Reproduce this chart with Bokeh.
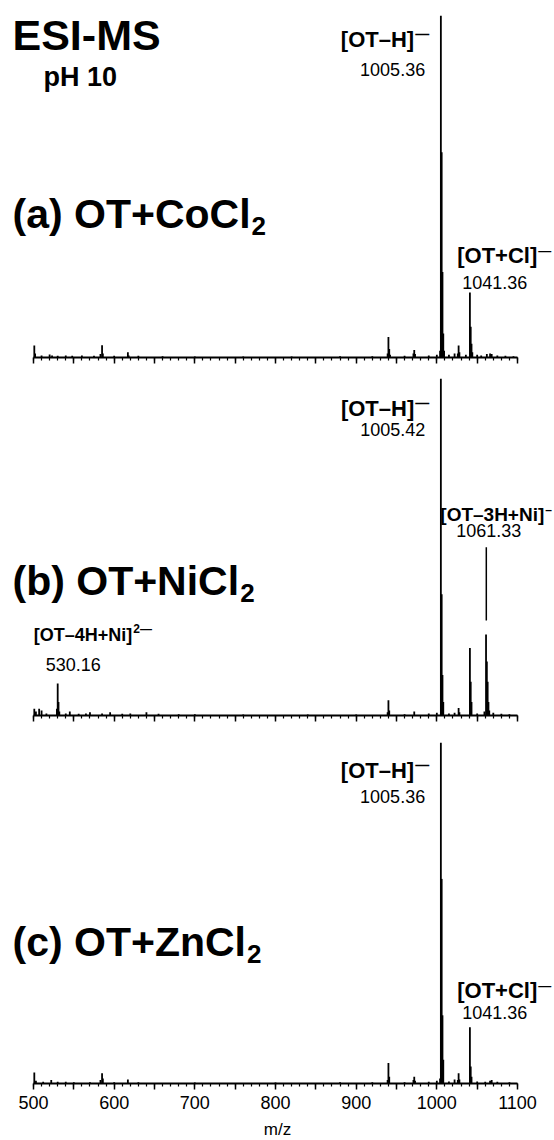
from bokeh.plotting import figure
from bokeh.models import Range1d, Label, FixedTicker
from bokeh.layouts import column
from bokeh.embed import file_html
from bokeh.resources import INLINE

FONT = "Liberation Sans"

# ---------------- data ----------------
tick_values = [500, 550, 600, 650, 700, 750, 800, 850, 900, 950, 1000, 1050, 1100]
tick_labels = ["500", "", "600", "", "700", "", "800", "", "900", "", "1000", "", "1100"]
minor_tick_values = [500, 510, 520, 530, 540, 550, 560, 570, 580, 590, 600, 610, 620, 630, 640,
                     650, 660, 670, 680, 690, 700, 710, 720, 730, 740, 750, 760, 770, 780, 790,
                     800, 810, 820, 830, 840, 850, 860, 870, 880, 890, 900, 910, 920, 930, 940,
                     950, 960, 970, 980, 990, 1000, 1010, 1020, 1030, 1040, 1050, 1060, 1070,
                     1080, 1090, 1100]
x_label = "m/z"

# (a) OT + CoCl2  -- relative intensity (1.0 = base peak)
mz_a = [501, 502, 510, 520, 523, 530, 540, 548, 560, 575, 583, 585, 586, 600, 617, 618, 630,
        660, 700, 760, 820, 880, 920, 939, 940, 941, 942, 960, 971, 972, 973, 990, 1000, 1004,
        1005, 1006, 1007, 1008, 1009, 1015, 1022, 1026, 1027, 1028, 1036, 1041, 1042, 1043,
        1044, 1050, 1055, 1062, 1066, 1068, 1075, 1085, 1095]
int_a = [0.035, 0.012, 0.006, 0.009, 0.006, 0.005, 0.006, 0.005, 0.006, 0.005, 0.010, 0.036,
         0.012, 0.005, 0.015, 0.006, 0.005, 0.004, 0.003, 0.003, 0.003, 0.004, 0.004, 0.012,
         0.060, 0.025, 0.008, 0.005, 0.012, 0.022, 0.010, 0.006, 0.008, 0.020, 1.000, 0.600,
         0.250, 0.070, 0.020, 0.008, 0.012, 0.012, 0.035, 0.015, 0.008, 0.190, 0.090, 0.040,
         0.015, 0.008, 0.006, 0.010, 0.012, 0.010, 0.006, 0.005, 0.004]

# (b) OT + NiCl2
mz_b = [501, 503, 507, 510, 516, 529, 530, 531, 532, 540, 545, 556, 565, 570, 585, 595, 610,
        620, 640, 655, 680, 700, 760, 840, 900, 939, 940, 941, 960, 972, 990, 1000, 1005, 1006,
        1007, 1008, 1015, 1022, 1027, 1028, 1041, 1042, 1043, 1050, 1059, 1061, 1062, 1063,
        1064, 1065, 1070, 1080, 1090]
int_b = [0.020, 0.012, 0.020, 0.015, 0.006, 0.020, 0.095, 0.040, 0.012, 0.006, 0.012, 0.005,
         0.006, 0.010, 0.006, 0.010, 0.005, 0.006, 0.010, 0.005, 0.004, 0.004, 0.003, 0.003,
         0.003, 0.010, 0.045, 0.015, 0.004, 0.012, 0.006, 0.008, 1.000, 0.360, 0.120, 0.040,
         0.006, 0.008, 0.022, 0.010, 0.200, 0.100, 0.040, 0.006, 0.012, 0.240, 0.160, 0.100,
         0.040, 0.015, 0.008, 0.005, 0.004]

# (c) OT + ZnCl2
mz_c = [501, 503, 512, 522, 530, 540, 550, 570, 583, 585, 586, 600, 617, 630, 700, 800, 880,
        920, 939, 940, 941, 960, 971, 972, 973, 990, 1000, 1004, 1005, 1006, 1007, 1008, 1015,
        1022, 1026, 1027, 1028, 1041, 1042, 1043, 1050, 1060, 1066, 1068, 1075, 1090]
int_c = [0.032, 0.008, 0.005, 0.010, 0.005, 0.005, 0.004, 0.004, 0.010, 0.030, 0.015, 0.004,
         0.012, 0.004, 0.003, 0.003, 0.004, 0.004, 0.010, 0.060, 0.020, 0.004, 0.010, 0.020,
         0.008, 0.005, 0.008, 0.015, 1.000, 0.600, 0.200, 0.070, 0.006, 0.012, 0.010, 0.030,
         0.012, 0.165, 0.050, 0.020, 0.006, 0.005, 0.008, 0.010, 0.005, 0.004]

# labelled peaks
oth_mz = [1005.36, 1005.42, 1005.36]
oth_txt = ["1005.36", "1005.42", "1005.36"]
otcl_mz = [1041.36, 1041.36]
otcl_txt = ["1041.36", "1041.36"]
ni1_mz, ni1_txt = 1061.33, "1061.33"
ni2_mz, ni2_txt = 530.16, "530.16"
ni1_leader = [0.282, 0.499]

# --------------- helpers ---------------
W = {' ': 278, '(': 333, ')': 333, 'a': 556, 'b': 611, 'c': 556, 'O': 778, 'T': 611, '+': 584,
     'C': 722, 'o': 611, 'l': 278, 'N': 722, 'i': 278, 'Z': 611, 'n': 611, '[': 333, ']': 333,
     'H': 722, '–': 556, '4': 556, '3': 556, '2': 556}


def tw(s, size):
    return sum(W[ch] for ch in s) * size / 1000.0


WIDTH = 554
PX0, PX1 = 33.0, 517.0          # pixel positions of m/z 500 and 1100
UPP = 600.0 / (PX1 - PX0)       # m/z units per pixel
X_START = 500 - PX0 * UPP
X_END = 1100 + (WIDTH - PX1) * UPP


def mzx(px):
    return 500 + (px - PX0) * UPP


def txt(p, x, y, s, size, bold=True, align="left", xo=0):
    p.add_layout(Label(x=x, y=y, text=s, x_offset=xo, text_font=FONT,
                       text_font_size=f"{size}px",
                       text_font_style="bold" if bold else "normal",
                       text_align=align, text_baseline="middle", text_color="black"))


def make_panel(mz, inten, frame_h, top, bottom, last):
    p = figure(frame_width=WIDTH, frame_height=frame_h, x_range=Range1d(X_START, X_END),
               y_range=Range1d(0, 1), y_axis_location=None,
               min_border_left=0, min_border_right=0, min_border_top=top,
               min_border_bottom=bottom, output_backend="svg", toolbar_location=None)
    p.segment(x0=mz, y0=[0] * len(mz), x1=mz, y1=inten, line_color="black", line_width=1.8)
    p.xgrid.visible = False
    p.ygrid.visible = False
    p.outline_line_color = None
    p.background_fill_color = "white"
    p.border_fill_color = "white"
    ax = p.xaxis[0]
    ax.bounds = (500, 1100)
    ax.ticker = FixedTicker(ticks=tick_values, minor_ticks=minor_tick_values)
    ax.major_label_overrides = {v: l for v, l in zip(tick_values, tick_labels)}
    ax.axis_line_width = 2
    ax.axis_line_color = "black"
    ax.major_tick_line_width = 1.5
    ax.minor_tick_line_width = 1.2
    ax.major_tick_in = 0
    ax.major_tick_out = 6
    ax.minor_tick_in = 0
    ax.minor_tick_out = 3
    if last:
        ax.major_label_text_font = FONT
        ax.major_label_text_font_size = "18px"
        ax.major_label_text_color = "black"
        ax.major_label_standoff = 6
        ax.axis_label = x_label
        ax.axis_label_text_font = FONT
        ax.axis_label_text_font_size = "17px"
        ax.axis_label_text_font_style = "normal"
        ax.axis_label_text_color = "black"
        ax.axis_label_standoff = 8
    else:
        ax.major_label_text_font_size = "1px"
        ax.major_label_standoff = 0
        ax.major_label_text_alpha = 0
    return p


def yd(axis, h, py):
    return (axis - py) / h


# ---------------- panel a ----------------
pa = make_panel(mz_a, int_a, 342, 15, 12, False)
A, HA = 357, 342
txt(pa, mzx(12), yd(A, HA, 34), "ESI-MS", 43)
txt(pa, mzx(43), yd(A, HA, 76), "pH 10", 27)
t = "(a) OT+CoCl"
txt(pa, mzx(12), yd(A, HA, 213), t, 41)
txt(pa, mzx(12 + tw(t, 41) + 1), yd(A, HA, 225), "2", 26)
txt(pa, oth_mz[0], yd(A, HA, 39), "[OT–H]", 22, align="right", xo=-27)
txt(pa, oth_mz[0], yd(A, HA, 33), "—", 14, xo=-26)
txt(pa, oth_mz[0], yd(A, HA, 69), oth_txt[0], 18, bold=False, align="right", xo=-16)
txt(pa, otcl_mz[0], yd(A, HA, 255), "[OT+Cl]", 22, xo=-13)
txt(pa, otcl_mz[0], yd(A, HA, 250), "—", 13, xo=-13 + tw("[OT+Cl]", 22) + 1)
txt(pa, otcl_mz[0], yd(A, HA, 282), otcl_txt[0], 18, bold=False, xo=-8)

# ---------------- panel b ----------------
pb = make_panel(mz_b, int_b, 337, 9, 14, False)
B, HB = 715, 337
t = "(b) OT+NiCl"
txt(pb, mzx(12), yd(B, HB, 580), t, 41)
txt(pb, mzx(12 + tw(t, 41) + 1), yd(B, HB, 592), "2", 26)
txt(pb, oth_mz[1], yd(B, HB, 408), "[OT–H]", 22, align="right", xo=-27)
txt(pb, oth_mz[1], yd(B, HB, 402), "—", 14, xo=-26)
txt(pb, oth_mz[1], yd(B, HB, 429), oth_txt[1], 18, bold=False, align="right", xo=-16)
txt(pb, ni1_mz, yd(B, HB, 514), "[OT–3H+Ni]", 19, xo=-46)
txt(pb, ni1_mz, yd(B, HB, 509), "–", 12, xo=-46 + tw("[OT–3H+Ni]", 19) + 1)
txt(pb, ni1_mz, yd(B, HB, 530), ni1_txt, 18, bold=False, xo=-30)
pb.segment(x0=[ni1_mz], y0=[ni1_leader[0]], x1=[ni1_mz], y1=[ni1_leader[1]],
           line_color="black", line_width=1.5)
txt(pb, ni2_mz, yd(B, HB, 634), "[OT–4H+Ni]", 18, xo=-24)
txt(pb, ni2_mz, yd(B, HB, 628), "2—", 12, xo=-24 + tw("[OT–4H+Ni]", 18) + 1)
txt(pb, ni2_mz, yd(B, HB, 664), ni2_txt, 18, bold=False, xo=-12)

# ---------------- panel c ----------------
pc = make_panel(mz_c, int_c, 341, 13, 0, True)
C, HC = 1083, 341
t = "(c) OT+ZnCl"
txt(pc, mzx(12), yd(C, HC, 941), t, 41)
txt(pc, mzx(12 + tw(t, 41) + 1), yd(C, HC, 953), "2", 26)
txt(pc, oth_mz[2], yd(C, HC, 770), "[OT–H]", 22, align="right", xo=-27)
txt(pc, oth_mz[2], yd(C, HC, 764), "—", 14, xo=-26)
txt(pc, oth_mz[2], yd(C, HC, 796), oth_txt[2], 18, bold=False, align="right", xo=-16)
txt(pc, otcl_mz[1], yd(C, HC, 990), "[OT+Cl]", 22, xo=-13)
txt(pc, otcl_mz[1], yd(C, HC, 985), "—", 13, xo=-13 + tw("[OT+Cl]", 22) + 1)
txt(pc, otcl_mz[1], yd(C, HC, 1012), otcl_txt[1], 18, bold=False, xo=-8)

layout = column(pa, pb, pc, spacing=0)
open("out.html", "w").write(file_html(layout, INLINE))
